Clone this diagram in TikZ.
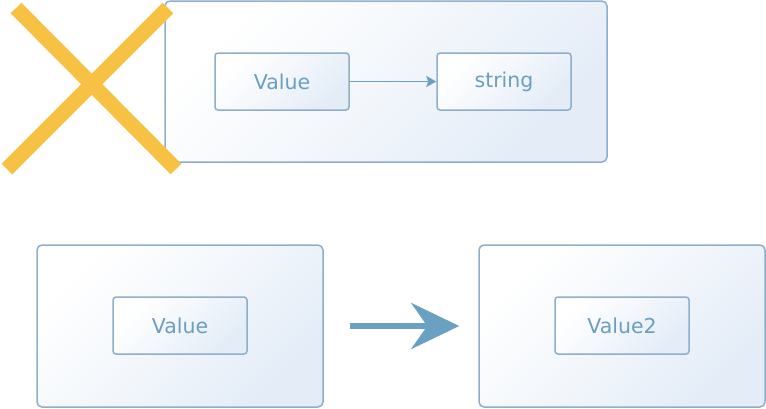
\documentclass[tikz,border=0pt]{standalone}
\usepackage{fontspec}
\setmainfont{DejaVu Sans}
\usetikzlibrary{arrows.meta}
\definecolor{boxline}{HTML}{8DAFCB}
\definecolor{boxfill}{HTML}{E3ECF7}
\definecolor{boxtext}{HTML}{6A9FC0}
\definecolor{arrowblue}{HTML}{6AA1C2}
\definecolor{crossyellow}{HTML}{F7C243}
\tikzset{
  panel/.style={draw=boxline,line width=1.5pt,rounded corners=5pt,
    top color=white,bottom color=boxfill,middle color=white!55!boxfill,shading angle=45,inner sep=0pt},
  item/.style={draw=boxline,line width=1.5pt,rounded corners=3pt,
    top color=white,bottom color=boxfill,middle color=white!55!boxfill,shading angle=45,
    minimum width=134pt,minimum height=57pt,inner sep=0pt,
    text=boxtext,font=\fontsize{20.5}{24}\selectfont}
}
\begin{document}
\begin{tikzpicture}[x=1pt,y=-1pt]
  \useasboundingbox (0,0) rectangle (766,408);

  % top: the old layout, crossed out
  \node[panel,minimum width=442pt,minimum height=161pt] (old) at (386,81.5) {};
  \node[item] (oldval) at (282,81.5) {Value};
  \node[item] (str) at (504,81.5) {string};
    \draw[arrowblue,line width=1.8pt,-{Stealth[length=10pt,width=11pt,inset=2pt]}] (oldval) -- (str);

  \draw[crossyellow,line width=15pt] (16,8) -- (176,169);
  \draw[crossyellow,line width=15pt] (168,8) -- (7,169);

  % bottom: before and after
  \node[panel,minimum width=286pt,minimum height=162pt] (before) at (180,326) {};
  \node[item] (val) at (180,325.5) {Value};
  \node[panel,minimum width=286pt,minimum height=162pt] (after) at (622,326) {};
  \node[item] (valtwo) at (622,325.5) {Value2};

  \draw[arrowblue,line width=6pt,shorten <=26pt,shorten >=19pt,
    -{Stealth[length=48pt,width=46pt,inset=16pt]}] (before) -- (after);
\end{tikzpicture}
\end{document}
